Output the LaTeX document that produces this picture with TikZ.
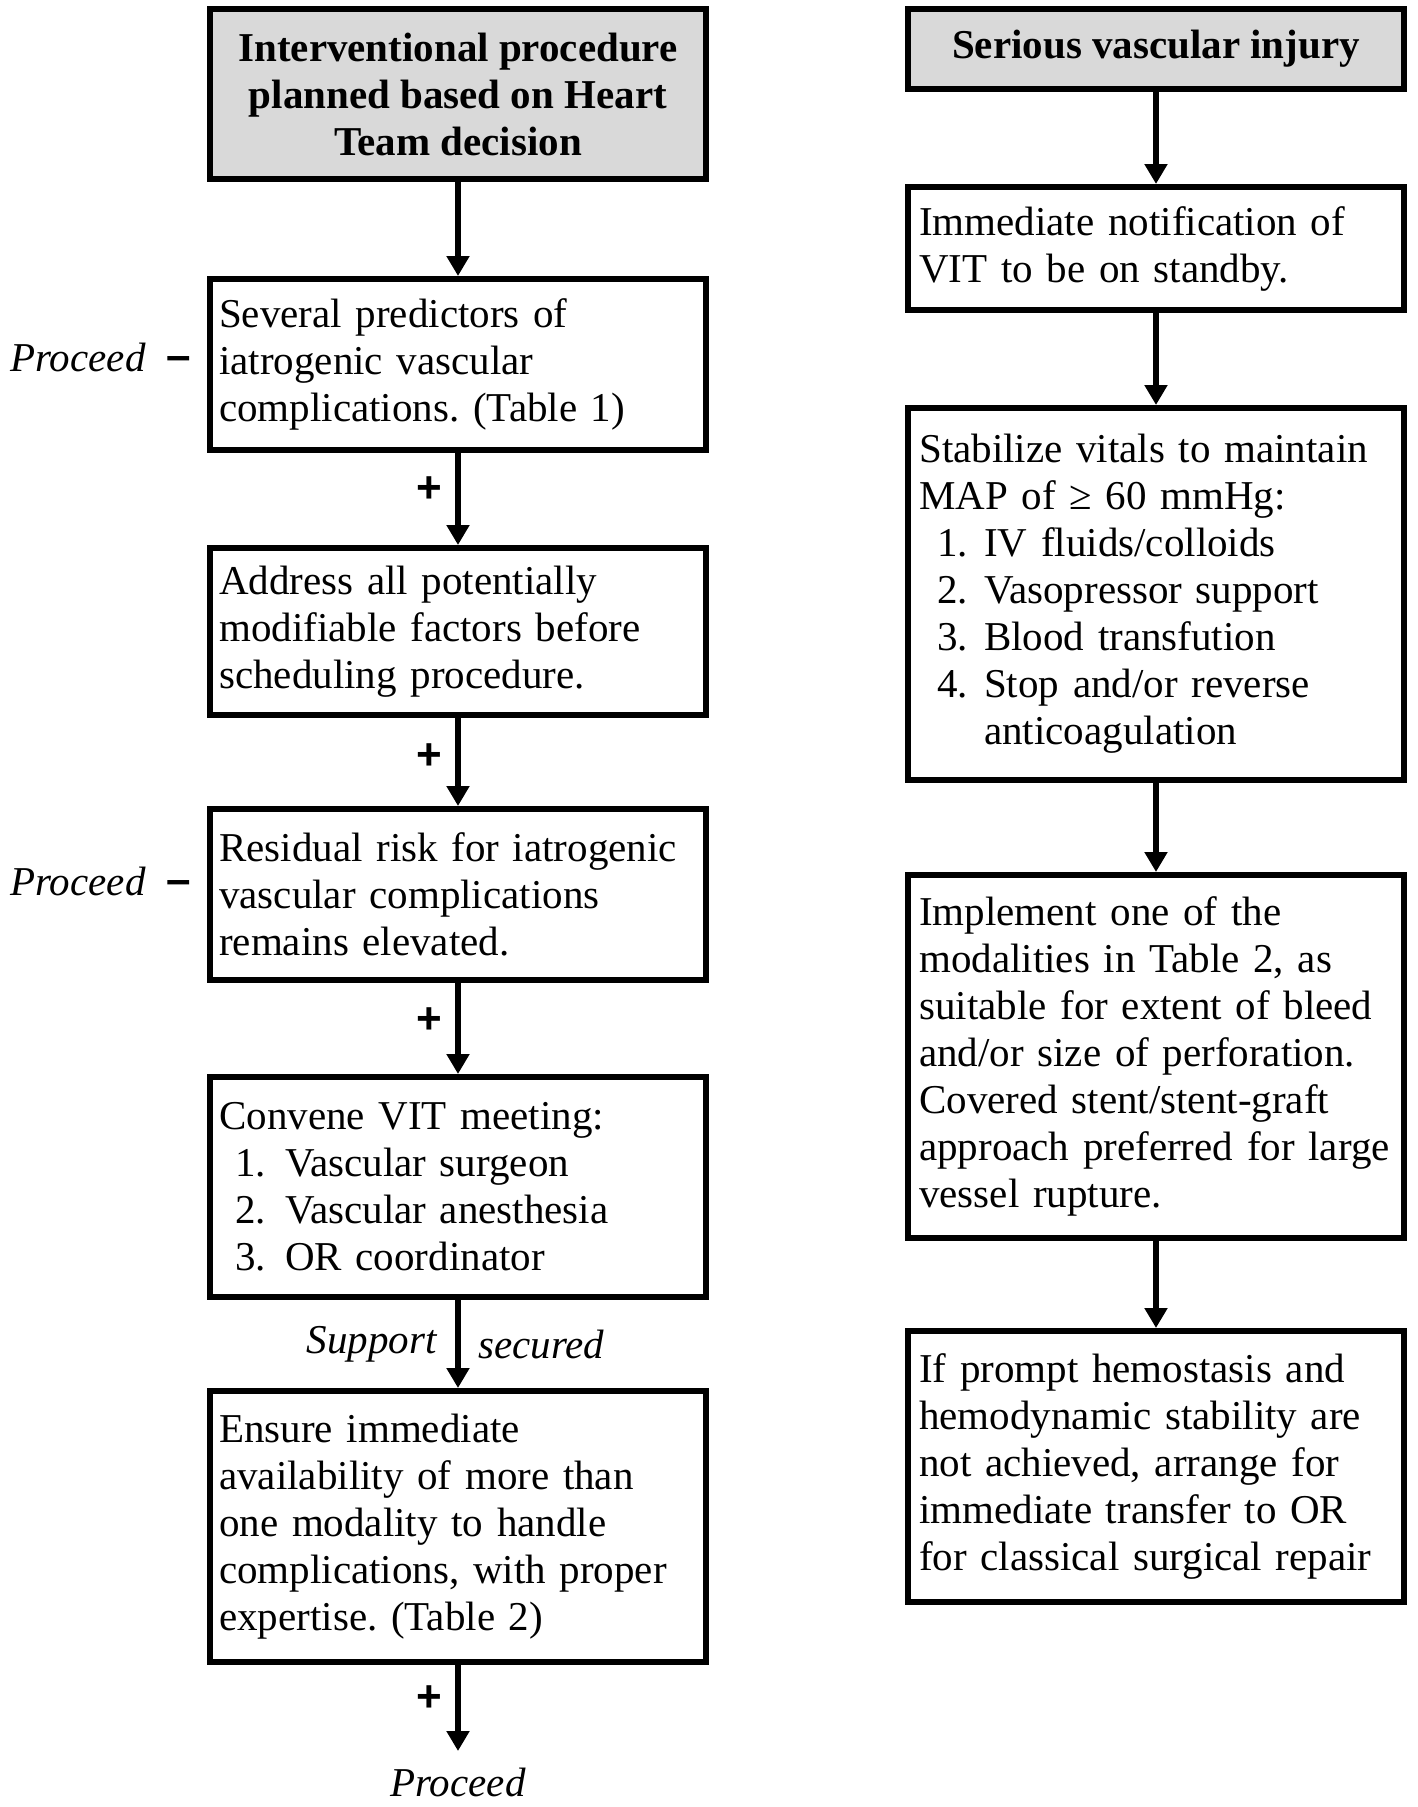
\documentclass[tikz,border=0pt]{standalone}
\usepackage{fontspec}
\setmainfont{Liberation Serif}
\newfontfamily\signfont{Liberation Sans}
\frenchspacing
\usetikzlibrary{arrows.meta}
\definecolor{headgray}{HTML}{D9D9D9}
\tikzset{
  basefont/.style={font=\fontsize{41}{47}\selectfont},
  pbox/.style={draw, line width=6pt, minimum width=496pt, inner sep=0pt},
  hbox/.style={pbox, fill=headgray, align=center, font=\fontsize{41}{47}\selectfont\bfseries},
  txt/.style={anchor=west, inner sep=0pt, align=left, text width=485pt, basefont},
  ilbl/.style={inner sep=0pt, font=\fontsize{41}{47}\selectfont\itshape},
  sgn/.style={inner sep=0pt, font=\fontsize{44}{47}\selectfont\signfont\bfseries},
  flow/.style={line width=6pt, -{Triangle[width=22pt,length=20pt]}}
}
\begin{document}
\begin{tikzpicture}[x=1pt,y=-1pt]
\useasboundingbox (0,0) rectangle (1417,1807);
\fill[white] (0,0) rectangle (1417,1807);

% left column boxes
\node[hbox, minimum height=170pt] (b1) at (458,94) {Interventional procedure\\planned based on Heart\\Team decision};
\node[pbox, minimum height=171pt] (b2) at (458,364.5) {};
\node[pbox, minimum height=167pt] (b3) at (458,631.5) {};
\node[pbox, minimum height=171pt] (b4) at (458,894.5) {};
\node[pbox, minimum height=220pt] (b5) at (458,1187) {};
\node[pbox, minimum height=271pt] (b6) at (458,1526.5) {};

\node[txt] (t2) at ([xshift=12pt]b2.west) {Several predictors of\\iatrogenic vascular\\complications. (Table 1)};
\node[txt] (t3) at ([xshift=12pt]b3.west) {Address all potentially\\modifiable factors before\\scheduling procedure.};
\node[txt] (t4) at ([xshift=12pt]b4.west) {Residual risk for iatrogenic\\vascular complications\\remains elevated.};
\node[txt] (t5) at ([xshift=12pt]b5.west) {Convene VIT meeting:\\
\hspace*{16pt}\makebox[50pt][l]{1.}Vascular surgeon\\
\hspace*{16pt}\makebox[50pt][l]{2.}Vascular anesthesia\\
\hspace*{16pt}\makebox[50pt][l]{3.}OR coordinator};
\node[txt] (t6) at ([xshift=12pt]b6.west) {Ensure immediate\\availability of more than\\one modality to handle\\complications, with proper\\expertise. (Table 2)};

% left column connectors
\draw[flow] (b1.south) -- (b2.north);
\draw[flow] (b2.south) -- (b3.north);
\draw[flow] (b3.south) -- (b4.north);
\draw[flow] (b4.south) -- (b5.north);
\draw[flow] (b5.south) -- (b6.north);
\coordinate (endp) at (458,1751);
\draw[flow] (b6.south) -- (endp);

\node[sgn] (p1) at (429,490) {+};
\node[sgn] (p2) at (429,757) {+};
\node[sgn] (p3) at (429,1021) {+};
\node[sgn] (p4) at (429,1699) {+};

\node[ilbl] (pr1) at (78,357) {Proceed};
\node[sgn] (m1) at (179,364) {–};
\node[ilbl] (pr2) at (78,881) {Proceed};
\node[sgn] (m2) at (179,887) {–};

\node[ilbl, anchor=east] (sup) at (437,1344) {Support};
\node[ilbl, anchor=west] (sec) at (478,1344) {secured};
\node[ilbl] (pr3) at (458,1782) {Proceed};

% right column boxes
\node[hbox, minimum height=80pt] (r1) at (1156,49) {Serious vascular injury};
\node[pbox, minimum height=123pt] (r2) at (1156,248.5) {};
\node[pbox, minimum height=372pt] (r3) at (1156,594) {};
\node[pbox, minimum height=363pt] (r4) at (1156,1056.5) {};
\node[pbox, minimum height=271pt] (r5) at (1156,1466.5) {};

\node[txt] (s2) at ([xshift=14pt]r2.west) {Immediate notification of\\VIT to be on standby.};
\node[txt] (s3) at ([xshift=14pt]r3.west) {Stabilize vitals to maintain\\MAP of ≥ 60 mmHg:\\
\hspace*{18pt}\makebox[47pt][l]{1.}IV fluids/colloids\\
\hspace*{18pt}\makebox[47pt][l]{2.}Vasopressor support\\
\hspace*{18pt}\makebox[47pt][l]{3.}Blood transfution\\
\hspace*{18pt}\makebox[47pt][l]{4.}Stop and/or reverse\\
\hspace*{65pt}anticoagulation};
\node[txt] (s4) at ([xshift=14pt]r4.west) {Implement one of the\\modalities in Table 2, as\\suitable for extent of bleed\\and/or size of perforation.\\Covered stent/stent-graft\\approach preferred for large\\vessel rupture.};
\node[txt] (s5) at ([xshift=14pt]r5.west) {If prompt hemostasis and\\hemodynamic stability are\\not achieved, arrange for\\immediate transfer to OR\\for classical surgical repair};

% right column connectors
\draw[flow] (r1.south) -- (r2.north);
\draw[flow] (r2.south) -- (r3.north);
\draw[flow] (r3.south) -- (r4.north);
\draw[flow] (r4.south) -- (r5.north);
\end{tikzpicture}
\end{document}
